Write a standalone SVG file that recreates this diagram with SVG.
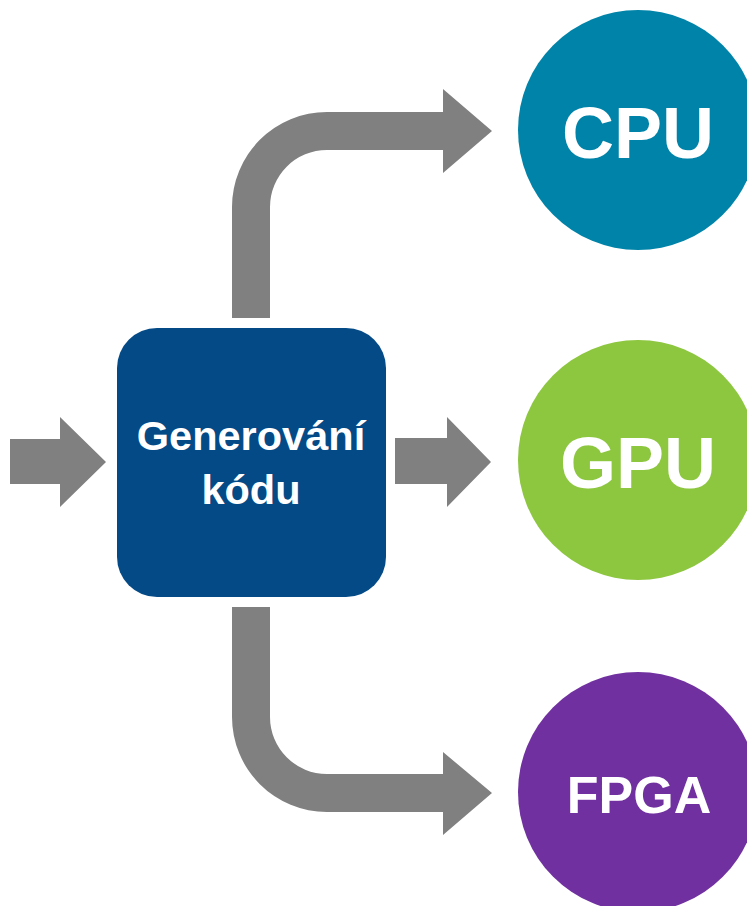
<svg xmlns="http://www.w3.org/2000/svg" width="747" height="906" viewBox="0 0 747 906">
<style>
.arrow{fill:#808080}
.lbl{fill:#ffffff;font-family:"Liberation Sans",Arial,sans-serif;font-weight:bold;text-anchor:middle}
</style>
<rect width="747" height="906" fill="#ffffff"/>
<g id="connectors">
<path class="arrow" d="M10,439 L60,439 L60,417 L106,462 L60,507 L60,484 L10,484 Z"/>
<path class="arrow" d="M395,438 L447,438 L447,417 L491,462 L447,507 L447,484 L395,484 Z"/>
<path class="arrow" d="M232,318 L232,207 A95,95 0 0 1 327,112 L443,112 L443,89 L492,131 L443,173 L443,150 L327,150 A57,57 0 0 0 270,207 L270,318 Z"/>
<path class="arrow" d="M232,607 L270,607 L270,717 A57,57 0 0 0 327,774 L443,774 L443,752 L492,793 L443,835 L443,812 L327,812 A95,95 0 0 1 232,717 Z"/>
</g>
<g id="codegen">
<rect x="117" y="328" width="269" height="269" rx="40" ry="40" fill="#034a87"/>
<text class="lbl" x="251" y="450" font-size="41.5">Generování</text>
<text class="lbl" x="251" y="504" font-size="41.5">kódu</text>
</g>
<g id="cpu">
<circle cx="638" cy="130" r="120" fill="#0083a8"/>
<text class="lbl" x="638" y="158" font-size="72">CPU</text>
</g>
<g id="gpu">
<circle cx="638" cy="460" r="120" fill="#8dc63f"/>
<text class="lbl" x="638" y="488" font-size="72">GPU</text>
</g>
<g id="fpga">
<circle cx="638" cy="792" r="120" fill="#7030a0"/>
<text class="lbl" x="639" y="813" font-size="52">FPGA</text>
</g>
</svg>
